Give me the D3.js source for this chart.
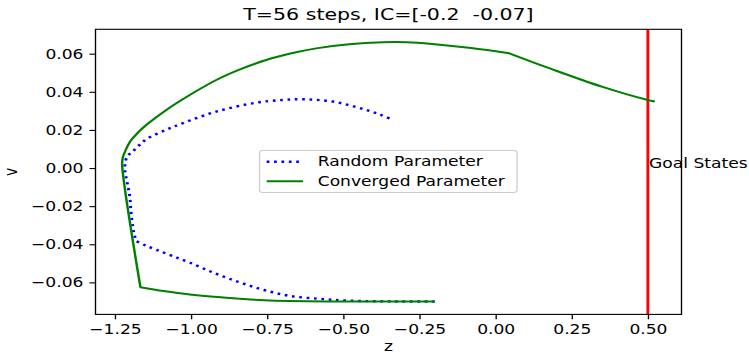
<!DOCTYPE html>
<html>
<head>
<meta charset="utf-8">
<script src="https://cdn.jsdelivr.net/npm/d3@7"></script>
<style>
  html, body { margin: 0; padding: 0; background: #fff; }
  svg { display: block; font-family: "DejaVu Sans", sans-serif; }
</style>
</head>
<body>
<div id="chart"></div>
<script>
// trajectories (z = position, v = velocity)
const randomZ = [-0.200, -0.330, -0.480, -0.580, -0.676, -0.760, -0.840, -0.925, -1.004, -1.060,
                 -1.113, -1.150, -1.179, -1.186, -1.191, -1.197, -1.201, -1.209, -1.217, -1.214,
                 -1.205, -1.191, -1.170, -1.146, -1.081, -1.026, -0.917, -0.786, -0.700, -0.644,
                 -0.590, -0.535, -0.480, -0.425, -0.380, -0.338];
const randomV = [-0.0700, -0.0700, -0.0696, -0.0686, -0.0671, -0.0640, -0.0600, -0.0550, -0.0496, -0.0462,
                 -0.0429, -0.0406, -0.0384, -0.0350, -0.0306, -0.0230, -0.0149, -0.0080, -0.0009, 0.0043,
                 0.0068, 0.0087, 0.0120, 0.0152, 0.0201, 0.0236, 0.0296, 0.0343, 0.0357, 0.0361,
                 0.0358, 0.0349, 0.0330, 0.0305, 0.0281, 0.0253];
const randomCorners = [12];

const convergedZ = [-0.200, -0.400, -0.550, -0.676, -0.760, -0.840, -0.925, -1.004, -1.090, -1.166,
                    -1.226, -1.224, -1.214, -1.198, -1.175, -1.142, -1.081, -1.000, -0.917,
                    -0.835, -0.753, -0.670, -0.589, -0.480, -0.371, -0.290, -0.208, -0.080, 0.045,
                    0.176, 0.349, 0.497, 0.523];
const convergedV = [-0.0700, -0.0700, -0.0700, -0.0698, -0.0694, -0.0686, -0.0676, -0.0663, -0.0645, -0.0625,
                    0.0017, 0.0054, 0.0096, 0.0143, 0.0185, 0.0232, 0.0305, 0.0387, 0.0462,
                    0.0520, 0.0567, 0.0602, 0.0628, 0.0650, 0.0660, 0.0660, 0.0651, 0.0630, 0.0602,
                    0.0524, 0.0427, 0.0358, 0.0349];
const convergedCorners = [9, 28];

const goalZ = 0.5;
const xTicks = [-1.25, -1.00, -0.75, -0.50, -0.25, 0.00, 0.25, 0.50];
const yTicks = [-0.06, -0.04, -0.02, 0.00, 0.02, 0.04, 0.06];
const seriesNames = ['Random Parameter', 'Converged Parameter'];
const title = 'T=56 steps, IC=[-0.2  -0.07]';

// the picture is a horizontally stretched figure, so draw in a narrower viewBox
const outW = 749, outH = 354;
const SX = 1.23;
const vbW = outW / SX;

const plot = { left: 95.5 / SX, right: 681.5 / SX, top: 29.3, bottom: 314.4 };

const svg = d3.select('#chart')
    .append('svg')
    .attr('width', outW)
    .attr('height', outH)
    .attr('viewBox', `0 0 ${vbW} ${outH}`)
    .attr('preserveAspectRatio', 'none');

const xScale = d3.scaleLinear()
    .domain([-1.3135, 0.6105])
    .range([plot.left, plot.right]);

const yScale = d3.scaleLinear()
    .domain([-0.0768, 0.0728])
    .range([plot.bottom, plot.top]);

const fmt = d3.format('.2f');

// axes
const xAxis = svg.append('g')
    .attr('transform', `translate(0,${plot.bottom})`)
    .call(d3.axisBottom(xScale).tickValues(xTicks).tickFormat(fmt).tickSize(4.9).tickPadding(4.9));

const yAxis = svg.append('g')
    .attr('transform', `translate(${plot.left},0)`)
    .call(d3.axisLeft(yScale).tickValues(yTicks).tickFormat(fmt).tickSize(4.9).tickPadding(4.9));

[xAxis, yAxis].forEach(g => {
    g.select('.domain').remove();
    g.selectAll('line').attr('stroke', '#000').attr('stroke-width', 1.1);
    g.selectAll('text').attr('fill', '#000').style('font-size', '13.9px')
        .style('font-family', '"DejaVu Sans", sans-serif');
});

const line = d3.line()
    .x(d => xScale(d[0]))
    .y(d => yScale(d[1]))
    .curve(d3.curveCatmullRom.alpha(0.5));

// repeating a point makes the spline turn sharply there
function points(zs, vs, corners) {
    const out = [];
    zs.forEach((z, i) => {
        out.push([z, vs[i]]);
        if (corners.includes(i)) out.push([z, vs[i]]);
    });
    return out;
}

svg.append('clipPath').attr('id', 'clip')
    .append('rect')
    .attr('x', plot.left).attr('y', plot.top)
    .attr('width', plot.right - plot.left)
    .attr('height', plot.bottom - plot.top);

const marks = svg.append('g').attr('clip-path', 'url(#clip)');

// goal line
marks.append('line')
    .attr('x1', xScale(goalZ)).attr('x2', xScale(goalZ))
    .attr('y1', plot.top).attr('y2', plot.bottom)
    .attr('stroke', '#ff0000')
    .attr('stroke-width', 2.3);

marks.append('path')
    .datum(points(randomZ, randomV, randomCorners))
    .attr('d', line)
    .attr('fill', 'none')
    .attr('stroke', '#0000ff')
    .attr('stroke-width', 2.4)
    .attr('stroke-dasharray', '2.2,3.8');

marks.append('path')
    .datum(points(convergedZ, convergedV, convergedCorners))
    .attr('d', line)
    .attr('fill', 'none')
    .attr('stroke', '#008000')
    .attr('stroke-width', 2)
    .attr('stroke-linejoin', 'round');

// frame
svg.append('rect')
    .attr('x', plot.left).attr('y', plot.top)
    .attr('width', plot.right - plot.left)
    .attr('height', plot.bottom - plot.top)
    .attr('fill', 'none')
    .attr('stroke', '#000')
    .attr('stroke-width', 1.1);

// goal label
svg.append('text')
    .attr('x', xScale(goalZ) + 1)
    .attr('y', yScale(0))
    .style('font-size', '13.9px')
    .text('Goal States');

// title and axis labels
svg.append('text')
    .attr('x', (plot.left + plot.right) / 2)
    .attr('y', 20)
    .attr('text-anchor', 'middle')
    .style('font-size', '16.7px')
    .style('white-space', 'pre')
    .text(title);

svg.append('text')
    .attr('x', (plot.left + plot.right) / 2)
    .attr('y', 351)
    .attr('text-anchor', 'middle')
    .style('font-size', '13.9px')
    .text('z');

svg.append('text')
    .attr('transform', `translate(${16.7 / SX},${(plot.top + plot.bottom) / 2}) rotate(-90)`)
    .attr('text-anchor', 'middle')
    .style('font-size', '13.9px')
    .text('v');

// legend
const legend = svg.append('g');
legend.append('rect')
    .attr('x', 259.5 / SX).attr('y', 150.5)
    .attr('width', (517 - 259.5) / SX).attr('height', 42)
    .attr('rx', 2.5)
    .attr('fill', '#fff').attr('fill-opacity', 0.8)
    .attr('stroke', '#cccccc').attr('stroke-width', 1);

const rows = [161.7, 181.2];
const styles = [
    { stroke: '#0000ff', width: 2.4, dash: '2.2,3.8' },
    { stroke: '#008000', width: 2, dash: null }
];
seriesNames.forEach((name, i) => {
    legend.append('line')
        .attr('x1', 266.7 / SX).attr('x2', 303 / SX)
        .attr('y1', rows[i]).attr('y2', rows[i])
        .attr('stroke', styles[i].stroke)
        .attr('stroke-width', styles[i].width)
        .attr('stroke-dasharray', styles[i].dash);
    legend.append('text')
        .attr('x', 317.7 / SX)
        .attr('y', rows[i] + 4.8)
        .style('font-size', '13.9px')
        .text(name);
});
</script>
</body>
</html>
